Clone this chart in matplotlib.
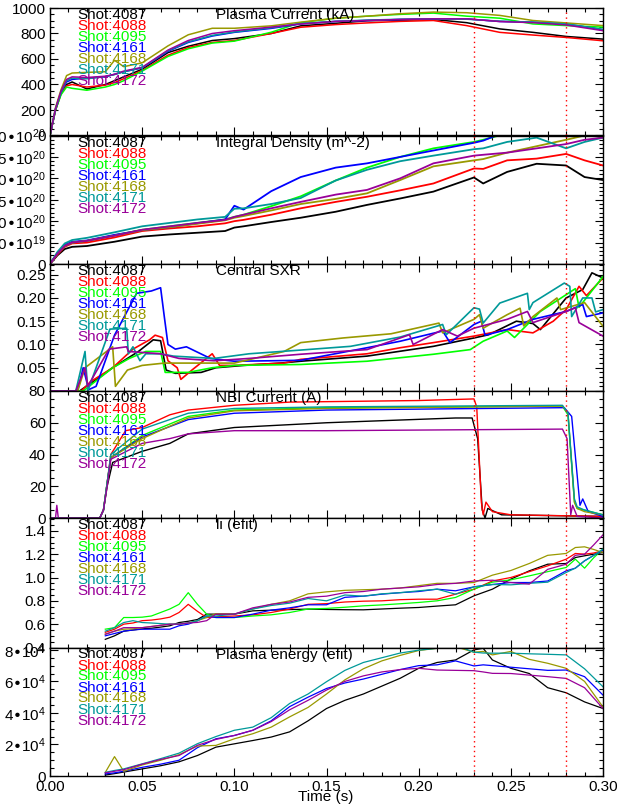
import matplotlib
matplotlib.use('Agg')
import matplotlib.pyplot as plt
from matplotlib.ticker import MultipleLocator

plt.rcParams['font.family'] = ['Liberation Sans', 'DejaVu Sans']
plt.rcParams['mathtext.default'] = 'regular'

# ---------------- data ----------------
shots = ['4087', '4088', '4095', '4161', '4168', '4171', '4172']
colors = ['#000000', '#ff0000', '#00ff00', '#0000ff', '#999900', '#009999', '#990099']
titles = ['Plasma Current (kA)', 'Integral Density (m^-2)', 'Central SXR',
          'NBI Current (A)', 'li (efit)', 'Plasma energy (efit)']

# Panel 1: plasma current (kA)
ip_t = [0, 0.003, 0.006, 0.009, 0.012, 0.02, 0.03, 0.035, 0.04, 0.05, 0.064, 0.075, 0.088,
        0.10, 0.12, 0.136, 0.155, 0.172, 0.19, 0.208, 0.226, 0.244, 0.262, 0.28, 0.30]
ip_4087 = [0, 200, 330, 400, 420, 365, 400, 430, 460, 520, 650, 700, 745, 760, 800, 860, 880, 900, 905, 910, 885, 836, 809, 777, 756]
ip_4088 = [0, 200, 330, 390, 400, 380, 395, 415, 445, 510, 630, 690, 730, 745, 800, 849, 870, 883, 895, 902, 862, 809, 788, 769, 743]
ip_4095 = [0, 200, 320, 380, 370, 355, 380, 400, 430, 505, 620, 680, 725, 740, 810, 885, 920, 936, 950, 960, 936, 920, 875, 862, 850]
ip_4161 = [0, 210, 340, 420, 440, 450, 460, 480, 500, 530, 660, 730, 780, 809, 840, 875, 895, 902, 910, 915, 915, 894, 889, 875, 830]
ip_4168 = [0, 220, 360, 470, 490, 495, 500, 590, 540, 570, 703, 790, 841, 841, 860, 889, 920, 936, 955, 968, 963, 942, 902, 883, 862]
ip_4171 = [0, 210, 340, 430, 450, 445, 462, 478, 500, 532, 665, 735, 785, 812, 845, 878, 895, 905, 912, 915, 912, 897, 889, 875, 832]
ip_4172 = [0, 210, 350, 440, 460, 455, 465, 480, 505, 535, 670, 745, 800, 822, 850, 875, 895, 902, 910, 915, 915, 894, 885, 867, 822]

# Panel 2: integral density (units of 1e20 m^-2)
ne_t = [0, 0.004, 0.008, 0.012, 0.02, 0.035, 0.05, 0.065, 0.08, 0.095, 0.10, 0.105, 0.12,
        0.136, 0.155, 0.172, 0.19, 0.208, 0.23, 0.235, 0.248, 0.264, 0.28, 0.29, 0.30]
ne_4087 = [0, 0.20, 0.35, 0.40, 0.42, 0.52, 0.64, 0.69, 0.73, 0.77, 0.85, 0.88, 0.98, 1.08, 1.22, 1.38, 1.53, 1.69, 2.02, 1.88, 2.15, 2.34, 2.30, 2.03, 1.96]
ne_4088 = [0, 0.22, 0.40, 0.48, 0.50, 0.62, 0.77, 0.83, 0.88, 0.95, 1.00, 1.03, 1.15, 1.30, 1.45, 1.57, 1.72, 1.88, 2.23, 2.22, 2.42, 2.46, 2.57, 2.42, 2.30]
ne_4095 = [0, 0.25, 0.42, 0.50, 0.54, 0.67, 0.80, 0.88, 0.96, 1.04, 1.10, 1.15, 1.35, 1.58, 1.95, 2.25, 2.50, 2.70, 2.85, 2.90, 3.05, 3.10, 3.10, 3.05, 2.95]
ne_4161 = [0, 0.25, 0.45, 0.52, 0.55, 0.68, 0.79, 0.86, 0.95, 1.04, 1.36, 1.27, 1.70, 2.03, 2.25, 2.35, 2.50, 2.65, 2.83, 2.88, 3.10, 3.20, 3.20, 3.20, 3.10]
ne_4168 = [0, 0.24, 0.42, 0.50, 0.54, 0.66, 0.79, 0.86, 0.94, 1.02, 1.08, 1.12, 1.25, 1.40, 1.52, 1.65, 1.96, 2.28, 2.42, 2.45, 2.60, 2.75, 2.90, 3.00, 3.05]
ne_4171 = [0, 0.28, 0.48, 0.56, 0.61, 0.74, 0.88, 0.96, 1.04, 1.10, 1.29, 1.30, 1.40, 1.54, 1.95, 2.20, 2.40, 2.53, 2.68, 2.70, 2.85, 2.95, 2.70, 2.85, 2.95]
ne_4172 = [0, 0.24, 0.42, 0.50, 0.54, 0.66, 0.80, 0.88, 0.96, 1.03, 1.10, 1.15, 1.30, 1.45, 1.62, 1.73, 2.00, 2.35, 2.53, 2.55, 2.60, 2.70, 2.80, 2.90, 2.95]

# Panel 3: central SXR
sxr_t_4087 = [0, 0.016, 0.027, 0.034, 0.048, 0.056, 0.060, 0.063, 0.068, 0.082, 0.09, 0.105, 0.125, 0.136, 0.172, 0.208, 0.230, 0.238, 0.253, 0.262, 0.266, 0.280, 0.289, 0.294, 0.30]
sxr_v_4087 = [0, 0, 0.03, 0.05, 0.085, 0.11, 0.108, 0.045, 0.038, 0.04, 0.05, 0.055, 0.06, 0.064, 0.075, 0.096, 0.114, 0.121, 0.15, 0.145, 0.132, 0.2, 0.218, 0.254, 0.243]
sxr_t_4088 = [0, 0.017, 0.022, 0.034, 0.045, 0.054, 0.057, 0.061, 0.064, 0.069, 0.071, 0.077, 0.088, 0.092, 0.10, 0.127, 0.136, 0.172, 0.19, 0.208, 0.23, 0.248, 0.262, 0.273, 0.28, 0.287, 0.291, 0.30]
sxr_v_4088 = [0, 0, 0.02, 0.05, 0.09, 0.11, 0.12, 0.115, 0.065, 0.05, 0.025, 0.045, 0.08, 0.055, 0.055, 0.06, 0.068, 0.08, 0.093, 0.104, 0.118, 0.132, 0.125, 0.15, 0.175, 0.225, 0.205, 0.243]
sxr_t_4095 = [0, 0.018, 0.034, 0.043, 0.052, 0.06, 0.0625, 0.066, 0.075, 0.088, 0.10, 0.136, 0.172, 0.208, 0.228, 0.235, 0.248, 0.252, 0.266, 0.28, 0.285, 0.287, 0.30]
sxr_v_4095 = [0, 0, 0.05, 0.07, 0.085, 0.085, 0.04, 0.04, 0.04, 0.05, 0.055, 0.057, 0.064, 0.079, 0.089, 0.107, 0.129, 0.115, 0.171, 0.207, 0.22, 0.18, 0.246]
sxr_t_4161 = [0, 0.015, 0.018, 0.021, 0.025, 0.035, 0.047, 0.055, 0.060, 0.062, 0.064, 0.068, 0.074, 0.087, 0.10, 0.12, 0.136, 0.172, 0.19, 0.213, 0.217, 0.23, 0.234, 0.236, 0.248, 0.262, 0.28, 0.289, 0.291, 0.30]
sxr_v_4161 = [0, 0, 0.05, 0.003, 0.01, 0.12, 0.21, 0.215, 0.222, 0.16, 0.10, 0.09, 0.095, 0.07, 0.064, 0.065, 0.066, 0.093, 0.107, 0.129, 0.104, 0.143, 0.15, 0.12, 0.132, 0.154, 0.171, 0.186, 0.16, 0.168]
sxr_t_4168 = [0, 0.015, 0.019, 0.034, 0.0355, 0.042, 0.05, 0.062, 0.10, 0.127, 0.136, 0.159, 0.185, 0.211, 0.213, 0.23, 0.233, 0.235, 0.248, 0.255, 0.257, 0.262, 0.275, 0.277, 0.29, 0.30]
sxr_v_4168 = [0, 0, 0.05, 0.095, 0.01, 0.045, 0.055, 0.06, 0.06, 0.085, 0.104, 0.114, 0.123, 0.146, 0.125, 0.154, 0.164, 0.135, 0.164, 0.178, 0.14, 0.16, 0.2, 0.175, 0.19, 0.139]
sxr_t_4171 = [0, 0.014, 0.019, 0.0205, 0.0325, 0.0416, 0.0425, 0.045, 0.0488, 0.052, 0.06, 0.067, 0.089, 0.108, 0.136, 0.163, 0.19, 0.213, 0.215, 0.23, 0.233, 0.235, 0.244, 0.259, 0.260, 0.262, 0.279, 0.282, 0.283, 0.289, 0.294, 0.296, 0.30]
sxr_v_4171 = [0, 0, 0.085, 0.0, 0.133, 0.135, 0.08, 0.095, 0.065, 0.08, 0.08, 0.075, 0.07, 0.08, 0.088, 0.096, 0.116, 0.143, 0.121, 0.179, 0.176, 0.146, 0.189, 0.21, 0.175, 0.19, 0.232, 0.225, 0.16, 0.2, 0.2, 0.17, 0.175]
sxr_t_4172 = [0, 0.014, 0.019, 0.0205, 0.032, 0.0416, 0.0425, 0.06, 0.07, 0.089, 0.108, 0.136, 0.172, 0.195, 0.197, 0.213, 0.221, 0.23, 0.248, 0.259, 0.262, 0.28, 0.285, 0.287, 0.30]
sxr_v_4172 = [0, 0, 0.05, 0.01, 0.09, 0.095, 0.085, 0.08, 0.07, 0.065, 0.07, 0.079, 0.089, 0.121, 0.1, 0.132, 0.118, 0.135, 0.154, 0.171, 0.147, 0.171, 0.179, 0.147, 0.118]

# Panel 4: NBI current (A)
nbi_t_4087 = [0, 0.027, 0.029, 0.031, 0.034, 0.05, 0.065, 0.075, 0.10, 0.15, 0.22, 0.229, 0.232, 0.2345, 0.236, 0.2375, 0.245, 0.30]
nbi_v_4087 = [0, 0, 5, 20, 35, 42, 47, 53, 57, 60, 63, 63, 50, 5, 0, 6, 2, 1]
nbi_t_4088 = [0, 0.027, 0.029, 0.031, 0.033, 0.041, 0.05, 0.065, 0.075, 0.10, 0.13, 0.20, 0.230, 0.2315, 0.234, 0.235, 0.2365, 0.240, 0.25, 0.30]
nbi_v_4088 = [0, 0, 5, 22, 40, 55, 57, 65, 68, 71, 73, 74, 75, 70, 10, 2, 10, 4, 2, 1]
nbi_t_4095 = [0, 0.027, 0.029, 0.031, 0.033, 0.05, 0.075, 0.10, 0.15, 0.278, 0.281, 0.2845, 0.286, 0.29, 0.30]
nbi_v_4095 = [0, 0, 5, 22, 38, 52, 64, 68, 69.5, 70.5, 65, 10, 6, 5, 2]
nbi_t_4161 = [0, 0.027, 0.029, 0.031, 0.033, 0.05, 0.075, 0.10, 0.15, 0.279, 0.283, 0.2875, 0.289, 0.292, 0.30]
nbi_v_4161 = [0, 0, 5, 22, 38, 51, 62, 66, 68, 69.5, 64, 8, 12, 4, 1]
nbi_t_4168 = [0, 0.027, 0.029, 0.031, 0.033, 0.05, 0.075, 0.10, 0.15, 0.278, 0.281, 0.2845, 0.286, 0.29, 0.30]
nbi_v_4168 = [0, 0, 5, 22, 38, 50, 63, 67.5, 69, 70.5, 66, 10, 6, 4, 2]
nbi_t_4171 = [0, 0.027, 0.029, 0.031, 0.033, 0.05, 0.075, 0.10, 0.15, 0.278, 0.281, 0.2845, 0.286, 0.29, 0.30]
nbi_v_4171 = [0, 0, 5, 22, 40, 56, 66, 69, 70, 71, 66, 12, 7, 5, 2]
nbi_t_4172 = [0, 0.003, 0.0037, 0.0045, 0.027, 0.029, 0.031, 0.033, 0.05, 0.065, 0.075, 0.10, 0.15, 0.278, 0.2805, 0.2825, 0.2835, 0.286, 0.30]
nbi_v_4172 = [0, 0, 8, 0, 0, 5, 20, 37, 47, 50, 53, 55, 55, 56, 50, 2, 8, 1, 0]

# Panel 5: li (efit)
li_t = [0.03, 0.035, 0.04, 0.045, 0.05, 0.055, 0.06, 0.065, 0.07, 0.075, 0.08, 0.085, 0.09,
        0.10, 0.11, 0.12, 0.13, 0.14, 0.15, 0.16, 0.17, 0.18, 0.19, 0.20, 0.21, 0.22, 0.23,
        0.24, 0.25, 0.26, 0.27, 0.28, 0.285, 0.29, 0.295, 0.30]
li_4087 = [0.47, 0.50, 0.54, 0.55, 0.56, 0.565, 0.575, 0.586, 0.614, 0.625, 0.64, 0.686, 0.686, 0.686, 0.714, 0.72, 0.725, 0.729, 0.726, 0.724, 0.723, 0.73, 0.737, 0.743, 0.755, 0.766, 0.843, 0.9, 0.986, 1.057, 1.114, 1.12, 1.171, 1.186, 1.2, 1.214]
li_4088 = [0.53, 0.557, 0.6, 0.61, 0.63, 0.635, 0.645, 0.66, 0.70, 0.77, 0.71, 0.657, 0.663, 0.67, 0.68, 0.70, 0.73, 0.77, 0.776, 0.79, 0.797, 0.80, 0.81, 0.814, 0.814, 0.857, 0.9, 0.97, 1.0, 1.05, 1.1, 1.157, 1.206, 1.2, 1.21, 1.23]
li_4095 = [0.557, 0.57, 0.657, 0.657, 0.66, 0.67, 0.70, 0.73, 0.77, 0.87, 0.77, 0.686, 0.657, 0.657, 0.67, 0.68, 0.70, 0.73, 0.735, 0.745, 0.757, 0.765, 0.775, 0.786, 0.80, 0.829, 0.9, 0.96, 0.98, 1.014, 1.05, 1.086, 1.157, 1.08, 1.17, 1.243]
li_4161 = [0.50, 0.52, 0.54, 0.55, 0.557, 0.557, 0.557, 0.557, 0.586, 0.60, 0.63, 0.67, 0.657, 0.657, 0.686, 0.72, 0.74, 0.766, 0.766, 0.83, 0.84, 0.857, 0.87, 0.88, 0.9, 0.886, 0.92, 0.94, 0.957, 0.957, 0.97, 1.057, 1.08, 1.143, 1.19, 1.234]
li_4168 = [0.514, 0.54, 0.557, 0.56, 0.57, 0.58, 0.59, 0.60, 0.60, 0.61, 0.63, 0.657, 0.69, 0.686, 0.73, 0.77, 0.80, 0.86, 0.877, 0.89, 0.895, 0.90, 0.91, 0.93, 0.95, 0.95, 0.957, 1.02, 1.06, 1.12, 1.19, 1.206, 1.257, 1.263, 1.24, 1.214]
li_4171 = [0.54, 0.57, 0.614, 0.63, 0.614, 0.61, 0.605, 0.60, 0.60, 0.61, 0.63, 0.67, 0.67, 0.686, 0.73, 0.76, 0.78, 0.82, 0.80, 0.85, 0.84, 0.86, 0.87, 0.886, 0.9, 0.857, 0.92, 0.94, 0.937, 0.95, 0.96, 1.043, 1.08, 1.143, 1.19, 1.243]
li_4172 = [0.514, 0.54, 0.57, 0.57, 0.57, 0.58, 0.59, 0.60, 0.60, 0.61, 0.615, 0.63, 0.686, 0.686, 0.74, 0.77, 0.79, 0.83, 0.84, 0.87, 0.88, 0.9, 0.91, 0.92, 0.94, 0.95, 0.97, 0.977, 0.957, 0.943, 1.07, 1.114, 1.19, 1.2, 1.28, 1.366]

# Panel 6: plasma energy (units of 1e4), shots 4088 and 4095 absent
we_t = [0.03, 0.035, 0.04, 0.05, 0.06, 0.07, 0.08, 0.09, 0.10, 0.11, 0.12, 0.13, 0.14, 0.15,
        0.16, 0.17, 0.18, 0.19, 0.20, 0.21, 0.22, 0.23, 0.235, 0.24, 0.25, 0.26, 0.27, 0.28, 0.29, 0.30]
we_4087 = [0.06, 0.15, 0.25, 0.45, 0.65, 0.9, 1.3, 1.83, 2.04, 2.25, 2.47, 2.8, 3.5, 4.28, 4.8, 5.2, 5.7, 6.2, 6.83, 7.2, 7.36, 8.0, 8.1, 7.36, 6.83, 6.5, 5.6, 5.28, 4.7, 4.28]
we_4161 = [0.13, 0.2, 0.3, 0.55, 0.75, 1.0, 1.8, 2.36, 2.57, 2.9, 3.5, 4.4, 5.0, 5.55, 5.9, 6.15, 6.45, 6.75, 7.0, 7.05, 7.3, 6.98, 7.05, 7.0, 6.9, 6.8, 6.7, 6.72, 6.3, 5.13]
we_4168 = [0.23, 1.23, 0.3, 0.7, 1.0, 1.35, 1.9, 1.94, 2.36, 2.68, 3.1, 3.75, 4.35, 5.2, 6.1, 6.8, 7.3, 7.65, 7.96, 8.1, 8.2, 7.85, 7.9, 7.68, 7.9, 7.4, 7.15, 6.83, 6.0, 4.38]
we_4171 = [0.23, 0.35, 0.45, 0.77, 1.1, 1.45, 2.05, 2.5, 2.9, 3.1, 3.7, 4.6, 5.2, 5.98, 6.7, 7.2, 7.5, 7.8, 7.98, 8.1, 8.3, 7.85, 7.8, 7.79, 7.79, 7.75, 7.72, 7.68, 6.8, 5.66]
we_4172 = [0.2, 0.3, 0.4, 0.75, 1.05, 1.3, 1.95, 2.32, 2.57, 2.9, 3.45, 4.2, 4.8, 5.45, 6.0, 6.35, 6.6, 6.75, 6.83, 6.72, 6.7, 6.68, 6.6, 6.51, 6.5, 6.4, 6.3, 6.19, 5.6, 4.28]

# axis ticks / labels
y1_ticks = [0, 200, 400, 600, 800, 1000]
y1_labels = ['0', '200', '400', '600', '800', '1000']
y2_ticks = [0, 0.5e20, 1.0e20, 1.5e20, 2.0e20, 2.5e20, 3.0e20]
y2_labels = ['0', '5.0•10$^{19}$', '1.0•10$^{20}$', '1.5•10$^{20}$', '2.0•10$^{20}$',
             '2.5•10$^{20}$', '3.0•10$^{20}$']
y3_ticks = [0.05, 0.10, 0.15, 0.20, 0.25]
y3_labels = ['0.05', '0.10', '0.15', '0.20', '0.25']
y4_ticks = [0, 20, 40, 60, 80]
y4_labels = ['0', '20', '40', '60', '80']
y5_ticks = [0.4, 0.6, 0.8, 1.0, 1.2, 1.4]
y5_labels = ['0.4', '0.6', '0.8', '1.0', '1.2', '1.4']
y6_ticks = [0, 2e4, 4e4, 6e4, 8e4]
y6_labels = ['0', '2•10$^{4}$', '4•10$^{4}$', '6•10$^{4}$', '8•10$^{4}$']
x_ticks = [0.0, 0.05, 0.10, 0.15, 0.20, 0.25, 0.30]
x_labels = ['0.00', '0.05', '0.10', '0.15', '0.20', '0.25', '0.30']
marker_times = [0.23, 0.28]

# ---------------- figure ----------------
W, H = 626, 805
fig = plt.figure(figsize=(W / 100, H / 100), dpi=100)
bounds = [8, 135.5, 264, 391, 518, 647.5, 776]
xl, xr = 50, 603
FS = 11

g = globals()
panels = [
    dict(series=[(ip_t, g['ip_' + s], 1.0) for s in shots], ylim=(0, 1000), ticks=y1_ticks, labels=y1_labels, minor=50, lw=1.1),
    dict(series=[(ne_t, g['ne_' + s], 1e20) for s in shots], ylim=(0, 3e20), ticks=y2_ticks, labels=y2_labels, minor=1e19, lw=1.3),
    dict(series=[(g['sxr_t_' + s], g['sxr_v_' + s], 1.0) for s in shots], ylim=(0, 0.273), ticks=y3_ticks, labels=y3_labels, minor=0.01, lw=1.2),
    dict(series=[(g['nbi_t_' + s], g['nbi_v_' + s], 1.0) for s in shots], ylim=(0, 80), ticks=y4_ticks, labels=y4_labels, minor=5, lw=1.0),
    dict(series=[(li_t, g['li_' + s], 1.0) for s in shots], ylim=(0.4, 1.51), ticks=y5_ticks, labels=y5_labels, minor=0.05, lw=0.9),
    dict(series=[(we_t, g['we_' + s], 1e4) if ('we_' + s) in g else None for s in shots], ylim=(0, 8.15e4), ticks=y6_ticks, labels=y6_labels, minor=5e3, lw=0.9),
]

for i, p in enumerate(panels):
    top, bot = bounds[i], bounds[i + 1]
    hpx = bot - top
    ax = fig.add_axes([xl / W, 1 - bot / H, (xr - xl) / W, hpx / H])
    for s, c, ser in zip(shots, colors, p['series']):
        if ser is None:
            continue
        t, v, scale = ser
        ax.plot(t, [val * scale for val in v], color=c, lw=p['lw'])
    for mt in marker_times:
        ax.axvline(mt, color='red', ls=(0, (1, 2.5)), lw=1.0)
    ax.set_xlim(0, 0.30)
    ax.set_ylim(*p['ylim'])
    ax.set_yticks(p['ticks'], p['labels'])
    ax.yaxis.set_minor_locator(MultipleLocator(p['minor']))
    ax.set_xticks(x_ticks, x_labels)
    ax.xaxis.set_minor_locator(MultipleLocator(0.01))
    ax.tick_params(which='both', direction='in', top=True, right=True,
                   labelsize=FS, width=0.8, pad=3)
    ax.tick_params(which='major', length=6)
    ax.tick_params(which='minor', length=3)
    ax.tick_params(axis='x', labelbottom=(i == 5))
    for sp in ax.spines.values():
        sp.set_linewidth(1.0)
    for k, (s, c) in enumerate(zip(shots, colors)):
        ax.text((77 - xl) / (xr - xl), 1 - (7 + 11 * k) / hpx, 'Shot:' + s, color=c,
                transform=ax.transAxes, ha='left', va='center', fontsize=FS)
    ax.text((216 - xl) / (xr - xl), 1 - 7 / hpx, titles[i], color='black',
            transform=ax.transAxes, ha='left', va='center', fontsize=FS)

fig.text(326 / W, 1 - 797 / H, 'Time (s)', ha='center', va='center', fontsize=FS)
fig.savefig('out.png', dpi=100)
